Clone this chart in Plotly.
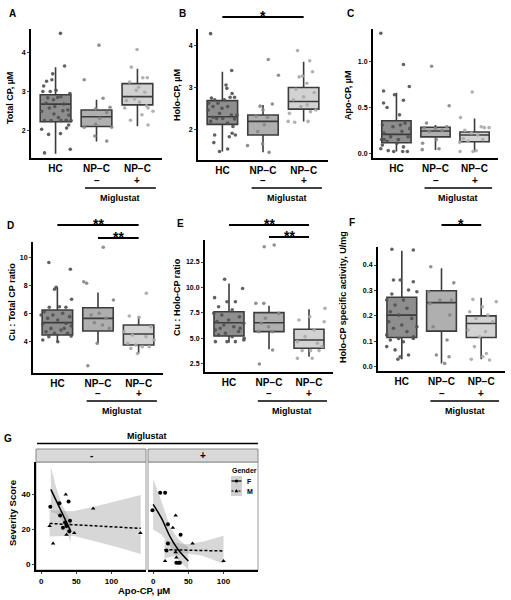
import plotly.graph_objects as go

# ---------------- data ----------------
categories = ["HC", "NP−C", "NP−C"]
miglustat_signs = ["–", "+"]
group_label = "Miglustat"

# Panel A  Total CP
A_lower = [1.42, 1.73, 2.12]
A_q1 = [2.23, 2.11, 2.66]
A_median = [2.68, 2.36, 2.87]
A_q3 = [2.92, 2.53, 3.20]
A_upper = [3.62, 2.79, 3.58]
A_jit = [[0.12, 0.22, -0.07, -0.09, -0.22, -0.29, -0.13, -0.31, 0.01, 0.13, -0.19, -0.05, 0.05, -0.23, 0.2, -0.15, 0.3, 0.18, -0.34, -0.04, 0.07, 0.38, -0.27, 0.26, -0.11, 0.13, 0.32, 0.27, -0.34, -0.17, 0.12, 0.36, -0.27, 0.35, 0.33, -0.02],
         [0.06, -0.30, 0.16, -0.02, 0.33, 0.25, 0.08, -0.30, 0.37, -0.02, -0.04, 0.25],
         [-0.01, -0.15, -0.19, 0.13, 0.24, 0.03, 0.18, -0.07, 0.05, -0.31, 0.26, 0.11, 0.38, -0.17, 0.26, -0.27, 0.22, -0.03]]
A_val = [[4.48, 3.65, 3.45, 3.30, 3.26, 3.14, 3.0, 3.0, 3.03, 2.87, 2.84, 2.79, 2.85, 2.70, 2.68, 2.58, 2.53, 2.51, 2.50, 2.43, 2.34, 2.26, 2.26, 2.27, 2.26, 2.26, 2.15, 2.07, 2.04, 1.91, 1.93, 1.53, 1.44, 2.95, 2.40, 2.62],
         [4.18, 3.30, 2.83, 2.56, 2.60, 2.47, 2.32, 2.09, 2.09, 2.17, 1.87, 1.74],
         [4.07, 3.62, 3.24, 3.35, 3.35, 3.11, 2.98, 2.81, 2.73, 2.58, 2.58, 2.41, 2.50, 2.27, 2.15, 2.77, 2.64, 3.03]]
A_ticks = [2, 3, 4]

# Panel B  Holo-CP
B_lower = [1.49, 1.47, 2.20]
B_q1 = [2.13, 1.88, 2.49]
B_median = [2.31, 2.20, 2.67]
B_q3 = [2.69, 2.35, 3.00]
B_upper = [3.37, 2.59, 3.61]
B_jit = [[-0.29, 0.23, 0.09, 0.11, 0.24, 0.19, 0.30, -0.27, -0.19, -0.11, -0.23, -0.01, 0.13, -0.35, -0.07, 0.22, -0.23, 0.01, 0.30, -0.29, 0.13, 0.26, -0.19, 0.24, 0.17, 0.32, -0.21, 0.13, -0.07, 0.36, -0.34, 0.05, -0.14],
         [0.13, 0.38, -0.07, 0.23, 0.0, -0.17, 0.11, 0.03, -0.38, -0.01, 0.15, -0.13],
         [-0.15, 0.15, 0.22, -0.11, -0.03, 0.08, -0.19, 0.26, 0.0, -0.25, 0.09, 0.30, -0.35, 0.17, -0.38, -0.22, 0.11, -0.07]]
B_val = [[4.27, 3.40, 3.06, 2.98, 2.86, 2.77, 2.77, 2.75, 2.71, 2.63, 2.55, 2.51, 2.55, 2.47, 2.39, 2.35, 2.30, 2.27, 2.26, 2.20, 2.16, 2.08, 1.88, 1.92, 1.84, 1.88, 1.70, 1.55, 1.49, 2.35, 2.63, 2.71, 2.27],
         [3.66, 3.29, 2.56, 2.61, 2.47, 2.33, 2.30, 2.12, 1.63, 1.67, 1.47, 1.96],
         [3.87, 3.63, 3.37, 3.25, 3.27, 3.10, 2.96, 2.88, 2.78, 2.71, 2.59, 2.47, 2.39, 2.43, 2.20, 2.18, 2.20, 2.55]]
B_ticks = [2, 3, 4]

# Panel C  Apo-CP
C_lower = [0.02, 0.036, 0.02]
C_q1 = [0.116, 0.18, 0.127]
C_median = [0.207, 0.244, 0.20]
C_q3 = [0.356, 0.284, 0.233]
C_upper = [0.66, 0.31, 0.38]
C_jit = [[-0.40, 0.18, 0.33, -0.33, -0.05, -0.33, 0.18, -0.24, 0.08, 0.22, -0.09, -0.36, 0.14, -0.32, -0.15, 0.30, -0.24, 0.05, -0.36, 0.18, -0.40, -0.21, -0.07, 0.16, 0.28, -0.32, 0.01, 0.34, 0.10, -0.38],
         [-0.10, 0.35, -0.23, -0.29, 0.0, 0.17, 0.29, -0.16, -0.33, 0.02, -0.34, 0.09],
         [-0.06, -0.36, 0.17, 0.25, 0.37, -0.25, -0.08, 0.08, -0.29, 0.21, -0.17, -0.38, -0.37, -0.04, 0.04]]
C_val = [[1.31, 0.97, 0.73, 0.68, 0.64, 0.55, 0.58, 0.50, 0.42, 0.33, 0.29, 0.31, 0.24, 0.22, 0.18, 0.18, 0.13, 0.15, 0.09, 0.07, 0.05, 0.03, 0.02, 0.02, 0.02, 0.15, 0.11, 0.27, 0.31, 0.15],
         [0.95, 0.52, 0.33, 0.28, 0.27, 0.25, 0.29, 0.24, 0.11, 0.15, 0.04, 0.05],
         [0.67, 0.39, 0.29, 0.28, 0.28, 0.25, 0.22, 0.20, 0.16, 0.15, 0.13, 0.12, 0.02, 0.02, 0.03]]
C_ticks = [0.0, 0.5, 1.0]

# Panel D  Cu : Total CP ratio
D_lower = [3.97, 3.85, 3.13]
D_q1 = [4.45, 4.73, 3.73]
D_median = [5.33, 5.64, 4.52]
D_q3 = [6.24, 6.40, 5.16]
D_upper = [7.86, 7.48, 5.76]
D_jit = [[-0.21, 0.32, -0.03, -0.07, 0.35, 0.05, -0.20, 0.21, -0.32, 0.13, -0.11, 0.30, -0.24, 0.01, 0.21, -0.36, 0.34, -0.16, 0.09, -0.28, 0.25, -0.07, 0.34, -0.21, -0.36, 0.01, 0.17, -0.40],
         [0.13, -0.35, -0.28, 0.38, -0.17, 0.03, 0.20, -0.09, 0.11, -0.02, -0.25, 0.28],
         [0.19, -0.23, 0.01, -0.36, 0.30, -0.15, 0.18, -0.27, -0.07, 0.09, 0.26, -0.19, -0.03, 0.38]]
D_val = [[9.63, 9.15, 7.86, 7.72, 7.0, 6.47, 6.43, 6.43, 6.12, 6.0, 5.88, 5.76, 5.64, 5.52, 5.28, 5.23, 5.09, 4.92, 4.80, 4.68, 4.57, 4.57, 4.37, 4.33, 4.09, 3.97, 4.92, 5.88],
         [10.72, 8.26, 8.15, 6.95, 5.88, 6.0, 5.64, 5.33, 5.16, 3.85, 2.25, 4.92],
         [7.43, 5.81, 5.71, 4.68, 5.04, 4.45, 4.33, 3.85, 3.73, 3.61, 3.61, 3.49, 3.13, 4.09]]
D_ticks = [4, 6, 8, 10]

# Panel E  Cu : Holo-CP ratio
E_lower = [4.58, 3.93, 3.20]
E_q1 = [5.24, 5.66, 4.03]
E_median = [6.54, 6.54, 4.84]
E_q3 = [7.62, 7.53, 5.89]
E_upper = [10.4, 8.2, 7.85]
E_jit = [[-0.11, 0.34, -0.36, -0.05, -0.26, 0.08, 0.16, -0.38, -0.18, 0.26, -0.01, -0.30, 0.37, -0.13, 0.12, -0.34, 0.24, -0.09, -0.26, 0.08, 0.38, -0.34, -0.05, 0.16, 0.37, -0.22, 0.28],
         [-0.12, 0.13, -0.33, -0.13, -0.09, 0.24, 0.08, -0.19, -0.26, -0.01, 0.09, -0.24],
         [0.40, 0.02, -0.25, 0.38, 0.13, -0.10, -0.29, 0.21, -0.17, 0.04, 0.25, -0.29, 0.08, 0.33]]
E_val = [[10.8, 9.9, 9.0, 8.6, 8.1, 7.8, 8.6, 7.46, 7.3, 7.13, 6.8, 6.65, 6.48, 6.32, 6.15, 5.83, 5.67, 5.5, 5.34, 5.17, 5.01, 4.68, 4.68, 4.68, 4.84, 5.99, 5.99],
         [14.0, 14.17, 8.44, 8.44, 6.97, 7.46, 5.66, 6.48, 5.66, 6.15, 3.86, 2.49],
         [7.95, 7.13, 6.8, 6.64, 5.83, 5.17, 4.68, 4.52, 3.80, 3.80, 3.80, 3.04, 3.04, 4.19]]
E_ticks = [2.5, 5.0, 7.5, 10.0, 12.5]

# Panel F  Holo-CP specific activity
F_lower = [0.029, 0.013, 0.029]
F_q1 = [0.115, 0.14, 0.115]
F_median = [0.203, 0.252, 0.17]
F_q3 = [0.273, 0.299, 0.20]
F_upper = [0.456, 0.387, 0.271]
F_jit = [[-0.25, 0.29, -0.21, -0.04, 0.29, 0.17, -0.25, 0.38, -0.38, 0.04, -0.17, 0.13, -0.29, -0.08, 0.25, -0.33, 0.0, 0.38, -0.21, 0.13, -0.38, 0.29, -0.08, 0.04, -0.38, -0.17, 0.17, -0.04, -0.1, 0.29, -0.29],
         [-0.27, 0.31, -0.33, 0.25, -0.04, -0.29, 0.21, -0.21, 0.14, -0.13, 0.19, 0.08],
         [-0.21, 0.38, 0.03, -0.29, 0.17, -0.13, 0.29, -0.33, 0.11, -0.04, -0.17, 0.13, 0.04, -0.25, 0.21]]
F_val = [[0.462, 0.459, 0.341, 0.341, 0.334, 0.302, 0.286, 0.295, 0.262, 0.262, 0.243, 0.23, 0.216, 0.203, 0.19, 0.177, 0.164, 0.157, 0.151, 0.138, 0.125, 0.118, 0.111, 0.098, 0.079, 0.066, 0.046, 0.039, 0.029, 0.111, 0.105],
         [0.393, 0.33, 0.295, 0.262, 0.262, 0.249, 0.203, 0.157, 0.105, 0.046, 0.039, 0.013],
         [0.265, 0.256, 0.236, 0.216, 0.203, 0.19, 0.177, 0.144, 0.138, 0.118, 0.079, 0.052, 0.039, 0.029, 0.026]]
F_ticks = [0.0, 0.1, 0.2, 0.3, 0.4]

# Panel G  Severity vs Apo-CP, faceted by Miglustat
G_facets = ["-", "+"]
G_ticks_x = [0, 50, 100]
G_ticks_y = [0, 20, 40]
G_minus_F_x = [13, 26, 39, 27, 41, 34, 31, 40, 36]
G_minus_F_y = [33, 35, 36, 28, 25, 24, 21, 19, 22]
G_minus_M_x = [12, 17, 35, 36, 47, 74, 141]
G_minus_M_y = [22, 12, 40, 17, 18, 32, 18]
G_plus_F_x = [-1, 10, 17, 21, 21, 19, 39, 33, 36, 38]
G_plus_F_y = [31, 41, 41, 23, 12, 8, 17, 1, 1, 1]
G_plus_M_x = [17, 28, 32, 32, 56, 100, 33]
G_plus_M_y = [2, 21, 28, 7, 12, 2, 4]
# fitted lines
G_minus_Ffit_x = [13.8, 42]
G_minus_Ffit_y = [43, 19.1]
G_minus_Mfit_x = [12, 141.5]
G_minus_Mfit_y = [23.5, 20.7]
G_plus_Ffit_x = [0, 12, 24, 36, 50]
G_plus_Ffit_y = [34.4, 26.4, 16, 8.3, 2]
G_plus_Mfit_x = [16, 100]
G_plus_Mfit_y = [8.5, 7.8]
# confidence bands
G_minus_Fband_x = [13.8, 20, 28, 35, 42]
G_minus_Fband_hi = [56, 46, 35.5, 30, 25.5]
G_minus_Fband_lo = [30, 29.5, 26.5, 20, 12.7]
G_minus_Mband_x = [12, 45, 75, 110, 141.5]
G_minus_Mband_hi = [31, 30.5, 33, 36.5, 39.7]
G_minus_Mband_lo = [16, 16.5, 13.5, 9.8, 6]
G_plus_Fband_x = [0, 12, 24, 36, 50]
G_plus_Fband_hi = [49, 36, 21.5, 14.5, 10]
G_plus_Fband_lo = [20, 17, 10.5, 2.5, -3]
G_plus_Mband_x = [16, 45, 70, 100]
G_plus_Mband_hi = [14, 11.5, 13, 16.5]
G_plus_Mband_lo = [3.5, 6.5, 5, 0.5]
legend_title = "Gender"
legend_labels = ["F", "M"]

# ---------------- layout helpers ----------------
W, H = 511, 600
FONT = "Liberation Sans, Arial, Helvetica, sans-serif"


def fx(px):
    return px / W


def fy(py):
    return 1 - py / H


fig = go.Figure()
layout = dict(width=W, height=H, margin=dict(l=0, r=0, t=0, b=0),
              paper_bgcolor="white", plot_bgcolor="rgba(0,0,0,0)",
              showlegend=False, font=dict(family=FONT, color="black"))
annotations = []
shapes = []

box_fill = ["#8e8e8e", "#afafaf", "#d2d2d2"]
pt_color = ["#505050", "#858585", "#a8a8a8"]

box_panels = [
    dict(letter="A", lower=A_lower, q1=A_q1, med=A_median, q3=A_q3, upper=A_upper, jit=A_jit, val=A_val,
         ticks=A_ticks, fmt="d", rng=[1.31, 4.59], box=(31, 162, 29, 158), title="Total CP, µM",
         tpos=(10, 98), lpos=(12, 14), row=0),
    dict(letter="B", lower=B_lower, q1=B_q1, med=B_median, q3=B_q3, upper=B_upper, jit=B_jit, val=B_val,
         ticks=B_ticks, fmt="d", rng=[1.29, 4.38], box=(198, 328, 29, 160), title="Holo-CP, µM",
         tpos=(177, 95), lpos=(182, 14), row=0),
    dict(letter="C", lower=C_lower, q1=C_q1, med=C_median, q3=C_q3, upper=C_upper, jit=C_jit, val=C_val,
         ticks=C_ticks, fmt=".1f", rng=[-0.051, 1.357], box=(373, 498, 29, 158), title="Apo-CP, µM",
         tpos=(348, 95), lpos=(350, 14), row=0),
    dict(letter="D", lower=D_lower, q1=D_q1, med=D_median, q3=D_q3, upper=D_upper, jit=D_jit, val=D_val,
         ticks=D_ticks, fmt="d", rng=[1.73, 11.1], box=(33, 163, 242, 373), title="Cu : Total CP ratio",
         tpos=(12, 302), lpos=(10, 225), row=1),
    dict(letter="E", lower=E_lower, q1=E_q1, med=E_median, q3=E_q3, upper=E_upper, jit=E_jit, val=E_val,
         ticks=E_ticks, fmt=".1f", rng=[1.7, 14.66], box=(205, 333, 240, 372), title="Cu : Holo-CP ratio",
         tpos=(177, 297), lpos=(180, 224), row=1),
    dict(letter="F", lower=F_lower, q1=F_q1, med=F_median, q3=F_q3, upper=F_upper, jit=F_jit, val=F_val,
         ticks=F_ticks, fmt=".1f", rng=[-0.017, 0.471], box=(378, 505, 247, 371),
         title="Holo-CP specific activity, U/mg", tpos=(343, 297), lpos=(352, 223), row=1),
]

# significance bars: (panel index, from, to, line y px, label)
sig_bars = [(1, 0, 2, 17, "*"), (3, 0, 2, 225, "**"), (3, 1, 2, 238, "**"),
            (4, 0, 2, 225, "**"), (4, 1, 2, 237, "**"), (5, 1, 2, 225, "*")]

row_y = {0: dict(sign=180, line=188, text=198), 1: dict(sign=393, line=401, text=411)}

axis_common = dict(showline=True, linecolor="black", linewidth=2, showgrid=False,
                   zeroline=False, fixedrange=True)

for i, p in enumerate(box_panels):
    n = i + 1
    xr = "x" if n == 1 else f"x{n}"
    yr = "y" if n == 1 else f"y{n}"
    xa = "xaxis" if n == 1 else f"xaxis{n}"
    ya = "yaxis" if n == 1 else f"yaxis{n}"
    x0, x1, y0, y1 = p["box"]
    layout[xa] = dict(domain=[fx(x0), fx(x1)], range=[-0.6, 2.6], anchor=yr,
                      tickvals=[0, 1, 2], ticktext=categories, ticks="",
                      tickfont=dict(size=10, weight="bold", family=FONT), **axis_common)
    tf = None if p["fmt"] == "d" else p["fmt"]
    layout[ya] = dict(domain=[fy(y1), fy(y0)], range=p["rng"], anchor=xr,
                      tickvals=p["ticks"], tickformat=tf, ticks="outside", ticklen=2, tickwidth=1,
                      tickfont=dict(size=7, weight="bold", family=FONT), **axis_common)
    for g in range(3):
        fig.add_trace(go.Box(x=[g], q1=[p["q1"][g]], median=[p["med"][g]], q3=[p["q3"][g]],
                             lowerfence=[p["lower"][g]], upperfence=[p["upper"][g]],
                             width=0.75, whiskerwidth=0, fillcolor=box_fill[g],
                             line=dict(color="#3c3c3c", width=1.6), boxpoints=False,
                             xaxis=xr, yaxis=yr, hoverinfo="skip", showlegend=False))
    for g in range(3):
        fig.add_trace(go.Scatter(x=[g + o for o in p["jit"][g]], y=p["val"][g], mode="markers",
                                 marker=dict(size=3.6, color=pt_color[g], opacity=0.9),
                                 xaxis=xr, yaxis=yr, hoverinfo="skip", showlegend=False))
    annotations.append(dict(text=f"<b>{p['title']}</b>", x=fx(p["tpos"][0]), y=fy(p["tpos"][1]),
                            xref="paper", yref="paper", textangle=-90, showarrow=False,
                            font=dict(size=9, family=FONT), xanchor="center", yanchor="middle"))
    annotations.append(dict(text=f"<b>{p['letter']}</b>", x=fx(p["lpos"][0]), y=fy(p["lpos"][1]),
                            xref="paper", yref="paper", showarrow=False,
                            font=dict(size=10, family=FONT), xanchor="center", yanchor="middle"))
    ry = row_y[p["row"]]
    for k, s in enumerate(miglustat_signs):
        annotations.append(dict(text=f"<b>{s}</b>", x=k + 1, y=fy(ry["sign"]), xref=xr, yref="paper",
                                showarrow=False, font=dict(size=10, family=FONT),
                                xanchor="center", yanchor="middle"))
    shapes.append(dict(type="line", xref=xr, yref="paper", x0=0.72, x1=2.45,
                       y0=fy(ry["line"]), y1=fy(ry["line"]), line=dict(color="black", width=1.6)))
    annotations.append(dict(text=f"<b>{group_label}</b>", x=1.585, y=fy(ry["text"]), xref=xr,
                            yref="paper", showarrow=False, font=dict(size=9, family=FONT),
                            xanchor="center", yanchor="middle"))

for (pi, a, b, ypx, lab) in sig_bars:
    n = pi + 1
    xr = "x" if n == 1 else f"x{n}"
    shapes.append(dict(type="line", xref=xr, yref="paper", x0=a, x1=b, y0=fy(ypx), y1=fy(ypx),
                       line=dict(color="black", width=2)))
    annotations.append(dict(text=f"<b>{lab}</b>", x=(a + b) / 2, y=fy(ypx - 1), xref=xr, yref="paper",
                            showarrow=False, font=dict(size=14, family=FONT),
                            xanchor="center", yanchor="middle"))

# ---------------- panel G ----------------
g_boxes = [(36, 146), (148, 258)]
g_top, g_bot = 462, 570
for k, (gx0, gx1) in enumerate(g_boxes):
    n = 7 + k
    layout[f"xaxis{n}"] = dict(domain=[fx(gx0), fx(gx1)], range=[-7.3, 149], anchor=f"y{n}",
                               tickvals=G_ticks_x, ticks="outside", ticklen=2, tickwidth=1,
                               tickfont=dict(size=8, weight="bold", family=FONT), **axis_common)
    ydict = dict(domain=[fy(g_bot), fy(g_top)], range=[-3.1, 58.6], anchor=f"x{n}",
                 tickvals=G_ticks_y, showgrid=False, zeroline=False, fixedrange=True)
    if k == 0:
        ydict.update(showline=True, linecolor="black", linewidth=2, ticks="outside", ticklen=2,
                     tickwidth=1, tickfont=dict(size=8, weight="bold", family=FONT))
    else:
        ydict.update(showline=False, showticklabels=False, ticks="")
    layout[f"yaxis{n}"] = ydict
    shapes.append(dict(type="rect", xref="paper", yref="paper", x0=fx(gx0), x1=fx(gx1),
                       y0=fy(g_bot), y1=fy(g_top), line=dict(color="#9a9a9a", width=1),
                       fillcolor="rgba(0,0,0,0)", layer="below"))
    shapes.append(dict(type="rect", xref="paper", yref="paper", x0=fx(gx0), x1=fx(gx1),
                       y0=fy(g_top), y1=fy(449), line=dict(color="#8a8a8a", width=1),
                       fillcolor="#d9d9d9"))
    annotations.append(dict(text=f"<b>{G_facets[k]}</b>", x=fx((gx0 + gx1) / 2), y=fy(455.5),
                            xref="paper", yref="paper", showarrow=False,
                            font=dict(size=10, family=FONT), xanchor="center", yanchor="middle"))

band_fill = "rgba(150,150,150,0.38)"


def add_band(xs, hi, lo, n):
    fig.add_trace(go.Scatter(x=xs + xs[::-1], y=hi + lo[::-1], fill="toself", fillcolor=band_fill,
                             line=dict(width=0), mode="lines", xaxis=f"x{n}", yaxis=f"y{n}",
                             hoverinfo="skip", showlegend=False))


add_band(G_minus_Mband_x, G_minus_Mband_hi, G_minus_Mband_lo, 7)
add_band(G_minus_Fband_x, G_minus_Fband_hi, G_minus_Fband_lo, 7)
add_band(G_plus_Mband_x, G_plus_Mband_hi, G_plus_Mband_lo, 8)
add_band(G_plus_Fband_x, G_plus_Fband_hi, G_plus_Fband_lo, 8)


def add_line(xs, ys, dash, n, shape="linear"):
    fig.add_trace(go.Scatter(x=xs, y=ys, mode="lines", line=dict(color="black", width=1.5, dash=dash,
                                                                  shape=shape),
                             xaxis=f"x{n}", yaxis=f"y{n}", hoverinfo="skip", showlegend=False))


add_line(G_minus_Ffit_x, G_minus_Ffit_y, "solid", 7)
add_line(G_minus_Mfit_x, G_minus_Mfit_y, "3px,2px", 7)
add_line(G_plus_Ffit_x, G_plus_Ffit_y, "solid", 8, "spline")
add_line(G_plus_Mfit_x, G_plus_Mfit_y, "3px,2px", 8)


def add_pts(xs, ys, sym, n):
    fig.add_trace(go.Scatter(x=xs, y=ys, mode="markers", marker=dict(symbol=sym, size=4, color="black"),
                             xaxis=f"x{n}", yaxis=f"y{n}", hoverinfo="skip", showlegend=False))


add_pts(G_minus_F_x, G_minus_F_y, "circle", 7)
add_pts(G_minus_M_x, G_minus_M_y, "triangle-up", 7)
add_pts(G_plus_F_x, G_plus_F_y, "circle", 8)
add_pts(G_plus_M_x, G_plus_M_y, "triangle-up", 8)

annotations.append(dict(text="<b>G</b>", x=fx(8), y=fy(438), xref="paper", yref="paper", showarrow=False,
                        font=dict(size=10, family=FONT), xanchor="center", yanchor="middle"))
annotations.append(dict(text=f"<b>{group_label}</b>", x=fx(147), y=fy(436), xref="paper", yref="paper",
                        showarrow=False, font=dict(size=9, family=FONT), xanchor="center", yanchor="middle"))
shapes.append(dict(type="line", xref="paper", yref="paper", x0=fx(37), x1=fx(258), y0=fy(443.5),
                   y1=fy(443.5), line=dict(color="black", width=1.6)))
annotations.append(dict(text="<b>Severity Score</b>", x=fx(12), y=fy(513), xref="paper", yref="paper",
                        textangle=-90, showarrow=False, font=dict(size=9.5, family=FONT),
                        xanchor="center", yanchor="middle"))
annotations.append(dict(text="<b>Apo-CP, µM</b>", x=fx(144), y=fy(590), xref="paper", yref="paper",
                        showarrow=False, font=dict(size=9.5, family=FONT), xanchor="center",
                        yanchor="middle"))

lx0, lx1 = 231, 242
annotations.append(dict(text=f"<b>{legend_title}</b>", x=fx(230), y=fy(470), xref="paper", yref="paper",
                        showarrow=False, font=dict(size=7, family=FONT), xanchor="left", yanchor="middle"))
for j, (lab, dash, yk) in enumerate(zip(legend_labels, ["solid", "2px,1.5px"], [481, 491])):
    shapes.append(dict(type="rect", xref="paper", yref="paper", x0=fx(lx0), x1=fx(lx1),
                       y0=fy(yk + 5), y1=fy(yk - 5), line=dict(width=0), fillcolor="#d0d0d0"))
    shapes.append(dict(type="line", xref="paper", yref="paper", x0=fx(lx0 + 0.5), x1=fx(lx1 - 0.5),
                       y0=fy(yk), y1=fy(yk), line=dict(color="black", width=1.2, dash=dash)))
    annotations.append(dict(text=f"<b>{lab}</b>", x=fx(245), y=fy(yk), xref="paper", yref="paper",
                            showarrow=False, font=dict(size=7, family=FONT), xanchor="left",
                            yanchor="middle"))
cx = (lx0 + lx1) / 2
shapes.append(dict(type="circle", xref="paper", yref="paper", x0=fx(cx - 1.6), x1=fx(cx + 1.6),
                   y0=fy(481 + 1.6), y1=fy(481 - 1.6), fillcolor="black", line=dict(width=0)))
shapes.append(dict(type="path", xref="paper", yref="paper",
                   path=f"M {fx(cx - 1.8)},{fy(492.2)} L {fx(cx + 1.8)},{fy(492.2)} L {fx(cx)},{fy(489)} Z",
                   fillcolor="black", line=dict(width=0)))

layout["annotations"] = annotations
layout["shapes"] = shapes
fig.update_layout(**layout)
fig.write_html("out.html", config={"displayModeBar": False},
               post_script="document.body.style.margin='0';document.body.style.overflow='hidden';")
